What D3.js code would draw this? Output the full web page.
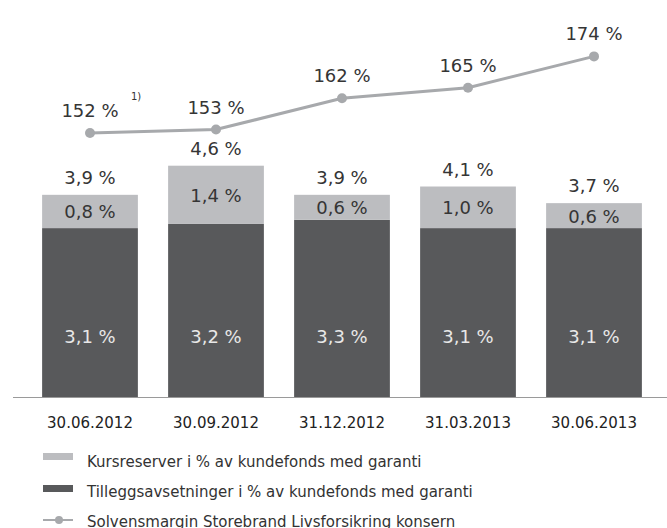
<!DOCTYPE html>
<html lang="no">
<head>
  <meta charset="UTF-8">
  <title>Kursreserver og tilleggsavsetninger</title>
  <script src="https://d3js.org/d3.v7.min.js"></script>
  <style>
    body {
      margin: 0;
      background: #fff;
      font-family: "DejaVu Sans", sans-serif;
    }
    .lbl { font-size: 18px; fill: #353535; }
    .lbl-in { font-size: 18px; fill: #e8e8e8; }
    .tick text { font-size: 15px; fill: #222; }
    .legend-text { font-size: 15px; fill: #333; }
  </style>
</head>
<body>
<div id="chart"></div>
<script>
  const dates = ["30.06.2012", "30.09.2012", "31.12.2012", "31.03.2013", "30.06.2013"];
  const tillegg = [3.1, 3.2, 3.3, 3.1, 3.1];       // dark, bottom
  const kursreserver = [0.8, 1.4, 0.6, 1.0, 0.6];  // light, top
  const totals = [3.9, 4.6, 3.9, 4.1, 3.7];
  const solvens = [152, 153, 162, 165, 174];
  const legendLabels = [
    "Kursreserver i % av kundefonds med garanti",
    "Tilleggsavsetninger i % av kundefonds med garanti",
    "Solvensmargin Storebrand Livsforsikring konsern"
  ];

  const W = 667, H = 528;
  const base = 397;
  const dark = "#58595b", light = "#bcbdc0", lineCol = "#a7a9ac";
  const fmt = v => v.toFixed(1).replace(".", ",") + " %";

  const svg = d3.select("#chart").append("svg")
    .attr("width", W).attr("height", H);

  const x = d3.scaleBand()
    .domain(dates)
    .range([27, 657])
    .paddingInner(0.24)
    .paddingOuter(0.12);

  // the bars do not start at zero in the original, the axis is cut below
  const y = d3.scaleLinear()
    .domain([-0.96, 5])
    .range([base, base - 5.96 * 41.6]);

  const yLine = d3.scaleLinear()
    .domain([150, 180])
    .range([140, 35.5]);

  // stacked bars
  svg.selectAll("rect.dark")
    .data(dates)
    .enter().append("rect")
    .attr("class", "dark")
    .attr("x", d => x(d))
    .attr("width", x.bandwidth())
    .attr("y", (d, i) => y(tillegg[i]))
    .attr("height", (d, i) => base - y(tillegg[i]))
    .attr("fill", dark);

  svg.selectAll("rect.light")
    .data(dates)
    .enter().append("rect")
    .attr("class", "light")
    .attr("x", d => x(d))
    .attr("width", x.bandwidth())
    .attr("y", (d, i) => y(tillegg[i] + kursreserver[i]))
    .attr("height", (d, i) => y(tillegg[i]) - y(tillegg[i] + kursreserver[i]))
    .attr("fill", light);

  // bar labels
  svg.selectAll("text.in-dark")
    .data(dates)
    .enter().append("text")
    .attr("class", "lbl-in")
    .attr("x", d => x(d) + x.bandwidth() / 2)
    .attr("y", base - 54)
    .attr("text-anchor", "middle")
    .text((d, i) => fmt(tillegg[i]));

  svg.selectAll("text.in-light")
    .data(dates)
    .enter().append("text")
    .attr("class", "lbl")
    .attr("x", d => x(d) + x.bandwidth() / 2)
    .attr("y", (d, i) => (y(tillegg[i]) + y(tillegg[i] + kursreserver[i])) / 2 + 7)
    .attr("text-anchor", "middle")
    .text((d, i) => fmt(kursreserver[i]));

  svg.selectAll("text.total")
    .data(dates)
    .enter().append("text")
    .attr("class", "lbl")
    .attr("x", d => x(d) + x.bandwidth() / 2)
    .attr("y", (d, i) => y(totals[i]) - 11)
    .attr("text-anchor", "middle")
    .text((d, i) => fmt(totals[i]));

  // x axis
  const ax = svg.append("g")
    .attr("transform", `translate(0,${base})`)
    .call(d3.axisBottom(x).tickSize(0));
  ax.select(".domain").remove();
  ax.selectAll(".tick text").attr("y", 31).attr("dy", 0)
    .style("font-family", "DejaVu Sans, sans-serif");
  svg.append("line")
    .attr("x1", 13).attr("x2", W)
    .attr("y1", base + 0.5).attr("y2", base + 0.5)
    .attr("stroke", "#9a9a9a").attr("stroke-width", 1);

  // solvens line
  const cx = d => x(d) + x.bandwidth() / 2;
  svg.append("path")
    .datum(dates)
    .attr("fill", "none")
    .attr("stroke", lineCol)
    .attr("stroke-width", 3)
    .attr("d", d3.line().x(d => cx(d)).y((d, i) => yLine(solvens[i])));

  svg.selectAll("circle.pt")
    .data(dates)
    .enter().append("circle")
    .attr("cx", d => cx(d))
    .attr("cy", (d, i) => yLine(solvens[i]))
    .attr("r", 5)
    .attr("fill", lineCol);

  svg.selectAll("text.sol")
    .data(dates)
    .enter().append("text")
    .attr("class", "lbl")
    .attr("x", d => cx(d))
    .attr("y", (d, i) => yLine(solvens[i]) - 16)
    .attr("text-anchor", "middle")
    .text((d, i) => solvens[i] + " %");

  // footnote marker
  svg.append("text")
    .attr("x", cx(dates[0]) + 41)
    .attr("y", yLine(solvens[0]) - 33)
    .style("font-size", "10px")
    .style("fill", "#333")
    .text("1)");

  // legend
  const lg = svg.append("g").attr("transform", "translate(43,0)");
  const rowY = i => 467 + i * 30;
  lg.append("rect").attr("x", 0).attr("y", rowY(0) - 14).attr("width", 30).attr("height", 7).attr("fill", light);
  lg.append("rect").attr("x", 0).attr("y", rowY(1) - 12).attr("width", 30).attr("height", 7).attr("fill", dark);
  lg.append("line").attr("x1", 0).attr("x2", 30).attr("y1", rowY(2) - 7).attr("y2", rowY(2) - 7)
    .attr("stroke", lineCol).attr("stroke-width", 2);
  lg.append("circle").attr("cx", 16).attr("cy", rowY(2) - 7).attr("r", 4).attr("fill", lineCol);

  lg.selectAll("text")
    .data(legendLabels)
    .enter().append("text")
    .attr("class", "legend-text")
    .attr("x", 44)
    .attr("y", (d, i) => rowY(i))
    .text(d => d);
</script>
</body>
</html>
